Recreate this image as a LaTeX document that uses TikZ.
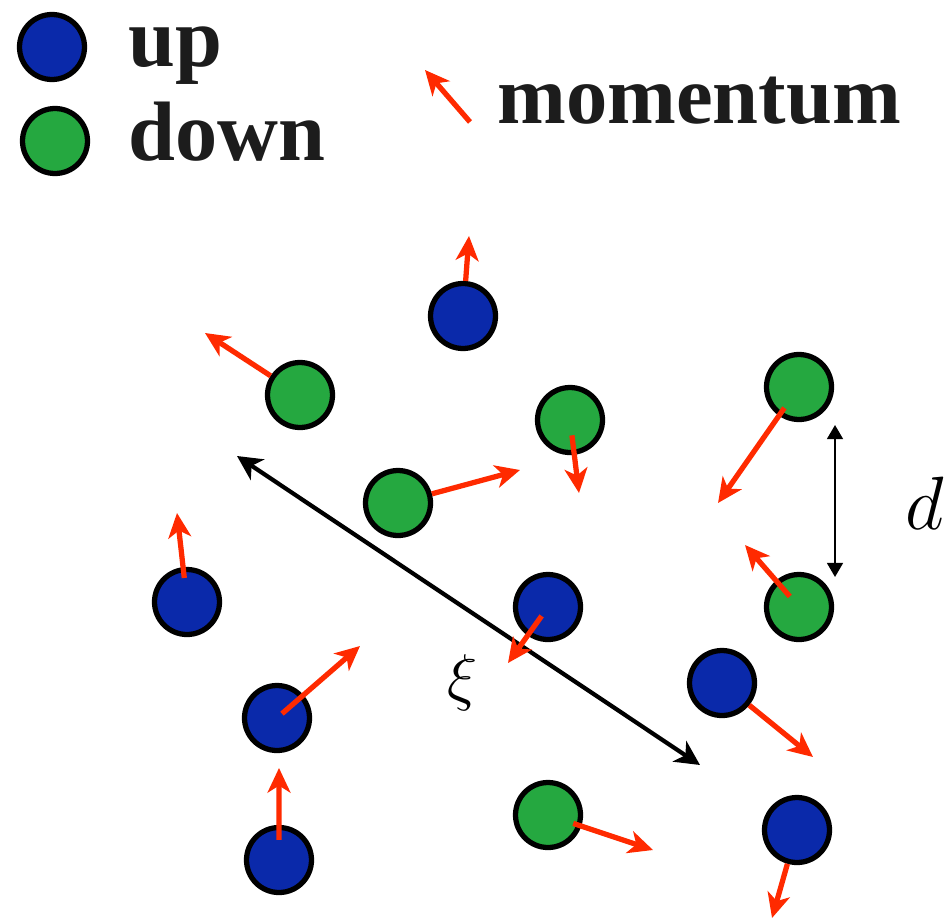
\documentclass[tikz,border=0pt]{standalone}
\usepackage{fix-cm}
\usepackage{fontspec}
\setmainfont{Liberation Serif}[BoldFont={Liberation Serif Bold}]
\usetikzlibrary{arrows.meta, calc}

\definecolor{upblue}{RGB}{10,41,170}
\definecolor{downgreen}{RGB}{37,168,64}
\definecolor{momred}{RGB}{255,42,0}
\definecolor{textgray}{RGB}{28,28,28}

\begin{document}
\begin{tikzpicture}[
    x=0.02cm, y=-0.02cm,
    particle/.style={circle, draw=black, line width=3pt, minimum size=1.3cm, inner sep=0pt, fill=#1},
    up/.style={particle=upblue},
    down/.style={particle=downgreen},
    mom/.style={-{Stealth[length=14pt, width=13pt, inset=4pt]}, draw=momred, line width=3pt},
    xiarrow/.style={{Stealth[length=14pt, width=14pt, inset=4pt]}-{Stealth[length=14pt, width=14pt, inset=4pt]}, line width=2.4pt},
    darrow/.style={{Triangle[length=8pt, width=9pt]}-{Triangle[length=8pt, width=9pt]}, line width=1.2pt},
    legendtext/.style={font=\fontsize{48}{56}\selectfont\bfseries, text=textgray, inner sep=0pt, anchor=base west}
]
\useasboundingbox (0,0) rectangle (952,919);

% Legend
\node[up] (legup) at (52,47) {};
\node[down] (legdown) at (55,141) {};
\node[legendtext] (uptext) at (128,67) {up};
\node[legendtext] (downtext) at (128,160) {down};
\coordinate (legtail) at (470,122);
\coordinate (legtip) at (425,70);
\node[legendtext, font=\fontsize{47}{56}\selectfont\bfseries] (momtext) at (497,123) {momentum};

% Up particles
\node[up] (b1) at (463,316) {};
\node[up] (b2) at (187,602) {};
\node[up] (b3) at (277,718) {};
\node[up] (b4) at (279,860) {};
\node[up] (b5) at (548,607) {};
\node[up] (b6) at (722,683) {};
\node[up] (b7) at (797,830) {};

% Down particles
\node[down] (g1) at (300,395) {};
\node[down] (g2) at (570,420) {};
\node[down] (g3) at (398,503) {};
\node[down] (g4) at (799,387) {};
\node[down] (g5) at (799,607) {};
\node[down] (g6) at (548,815) {};

% Correlation length and spacing
\coordinate (xitop) at (237,456);
\coordinate (xibot) at (700,765);
\draw[xiarrow] (xitop) -- (xibot);
\node (xi) at (463,683) {\fontsize{36}{42}\selectfont$\xi$};

\coordinate (dtop) at (835,425);
\coordinate (dbot) at (835,577);
\draw[darrow] (dtop) -- (dbot);
\node (dlabel) at (925,503) {\fontsize{43}{50}\selectfont$d$};

% Momenta
\coordinate (t1) at (469,236);
\coordinate (t2) at (177,513);
\coordinate (t3) at (360,646);
\coordinate (t4) at (279,768);
\coordinate (t5) at (508,663);
\coordinate (t6) at (813,757);
\coordinate (t7) at (772,918);
\coordinate (s1) at (205,333);
\coordinate (s2) at (579,493);
\coordinate (s3) at (520,470);
\coordinate (s4) at (718,503);
\coordinate (s5) at (745,545);
\coordinate (s6) at (653,850);

\draw[mom] (legtail) -- (legtip);
\draw[mom] (b1) -- (t1);
\draw[mom] ($(b2)!.27!(t2)$) -- (t2);
\draw[mom] ($(b3)!.06!(t3)$) -- (t3);
\draw[mom] ($(b4)!.22!(t4)$) -- (t4);
\draw[mom] ($(b5)!.16!(t5)$) -- (t5);
\draw[mom] (b6) -- (t6);
\draw[mom] (b7) -- (t7);
\draw[mom] (g1) -- (s1);
\draw[mom] ($(g2)!.21!(s2)$) -- (s2);
\draw[mom] (g3) -- (s3);
\draw[mom] ($(g4)!.18!(s4)$) -- (s4);
\draw[mom] ($(g5)!.17!(s5)$) -- (s5);
\draw[mom] ($(g6)!.24!(s6)$) -- (s6);

\end{tikzpicture}
\end{document}
